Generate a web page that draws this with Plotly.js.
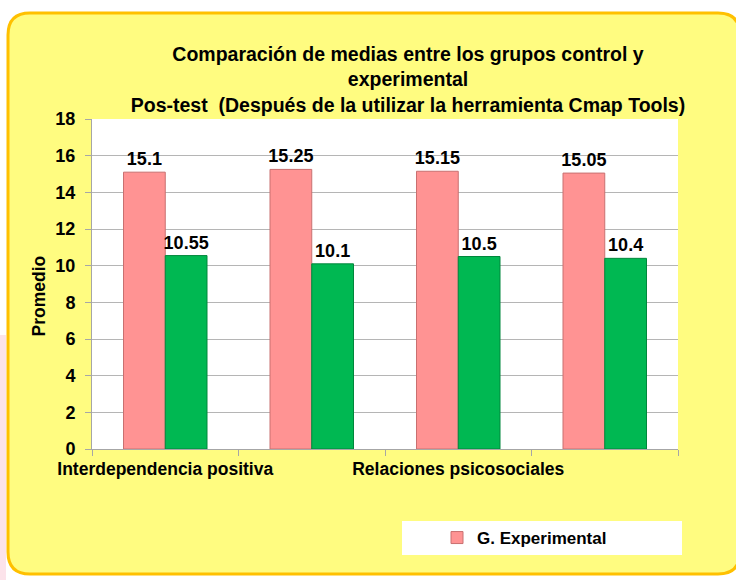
<!DOCTYPE html>
<html>
<head>
<meta charset="utf-8">
<script src="https://cdn.plot.ly/plotly-3.0.1.min.js"></script>
<style>html,body{margin:0;padding:0;background:#fff;}#chart{width:736px;height:580px;}</style>
</head>
<body>
<div id="chart"></div>
<script>
// ---- data ----
const categories = ["Interdependencia positiva", "Categoría 2", "Relaciones psicosociales", "Categoría 4"];
const tickLabels = ["Interdependencia positiva", "", "Relaciones psicosociales", ""];
const experimental = [15.1, 15.25, 15.15, 15.05];
const control = [10.55, 10.1, 10.5, 10.4];
const seriesNames = ["G. Experimental", "G. Control"];

// ---- layout helpers ----
const W = 736, H = 580;
const M = {l: 92, r: 58, t: 119, b: 131};
const pw = W - M.l - M.r, ph = H - M.t - M.b;
const px = x => (x - M.l) / pw;
const py = y => (H - M.b - y) / ph;

function roundRect(x0, y0, x1, y1, r) {
  return `M ${px(x0 + r)} ${py(y0)} L ${px(x1 - r)} ${py(y0)} Q ${px(x1)} ${py(y0)} ${px(x1)} ${py(y0 + r)} ` +
         `L ${px(x1)} ${py(y1 - r)} Q ${px(x1)} ${py(y1)} ${px(x1 - r)} ${py(y1)} ` +
         `L ${px(x0 + r)} ${py(y1)} Q ${px(x0)} ${py(y1)} ${px(x0)} ${py(y1 - r)} ` +
         `L ${px(x0)} ${py(y0 + r)} Q ${px(x0)} ${py(y0)} ${px(x0 + r)} ${py(y0)} Z`;
}

const FONT = "Liberation Sans, Arial, sans-serif";
const labelFont = {family: FONT, size: 18, color: "#000", weight: "bold"};

const traces = [
  {
    type: "bar", x: categories, y: experimental, name: seriesNames[0],
    marker: {color: "#FF9393", line: {color: "#C97070", width: 1}},
    text: experimental.map(String), textposition: "outside", textfont: labelFont,
    constraintext: "none", cliponaxis: false, hoverinfo: "x+y"
  },
  {
    type: "bar", x: categories, y: control, name: seriesNames[1], showlegend: false,
    marker: {color: "#00B852", line: {color: "#00873C", width: 1}},
    text: control.map(String), textposition: "outside", textfont: labelFont,
    constraintext: "none", cliponaxis: false, hoverinfo: "x+y"
  }
];

const layout = {
  width: W, height: H,
  margin: M,
  paper_bgcolor: "#ffffff",
  plot_bgcolor: "rgba(0,0,0,0)",
  font: {family: FONT, color: "#000"},
  showlegend: true,
  barmode: "group",
  bargap: 0.43,
  bargroupgap: 0,
  title: {
    text: "Comparación de medias entre los grupos control y<br>experimental<br>Pos-test&nbsp; (Después de la utilizar la herramienta Cmap Tools)",
    font: {family: FONT, size: 19.5, color: "#000", weight: "bold"},
    x: 408 / W, xanchor: "center", xref: "container",
    y: 1 - 61 / H, yanchor: "top", yref: "container"
  },
  xaxis: {
    type: "category",
    tickvals: categories, ticktext: tickLabels,
    tickson: "boundaries",
    tickangle: 0,
    ticks: "outside", ticklen: 6, tickcolor: "#a6a6a6",
    ticklabelstandoff: 4,
    showline: true, linecolor: "#a6a6a6", linewidth: 1,
    showgrid: false,
    tickfont: {family: FONT, size: 17.5, color: "#000", weight: "bold"},
    range: [-0.5, 3.5]
  },
  yaxis: {
    range: [0, 18], dtick: 2,
    ticks: "outside", ticklen: 6, tickcolor: "#a6a6a6",
    showline: true, linecolor: "#a6a6a6", linewidth: 1,
    showgrid: true, gridcolor: "#b5b5b5", gridwidth: 1,
    zeroline: false,
    tickfont: {family: FONT, size: 18, color: "#000", weight: "bold"},
    ticklabelstandoff: 6,
    title: {text: "Promedio&nbsp;&nbsp;&nbsp;&nbsp;&nbsp;", font: {family: FONT, size: 17.5, color: "#000", weight: "bold"}, standoff: 5}
  },
  legend: {
    x: px(437), xanchor: "left", y: py(538), yanchor: "middle",
    bgcolor: "rgba(0,0,0,0)",
    font: {family: FONT, size: 17, color: "#000", weight: "bold"}
  },
  shapes: [
    {type: "rect", xref: "paper", yref: "paper", x0: px(0), x1: px(6), y0: py(335), y1: py(580),
     fillcolor: "#FCE3EA", line: {width: 0}, layer: "below"},
    {type: "path", xref: "paper", yref: "paper", path: roundRect(8, 13, 740, 574, 22),
     fillcolor: "#FFFC80", line: {color: "#FFC000", width: 3}, layer: "below"},
    {type: "rect", xref: "paper", yref: "paper", x0: 0, x1: 1, y0: 0, y1: 1,
     fillcolor: "#ffffff", line: {width: 0}, layer: "below"},
    {type: "rect", xref: "paper", yref: "paper", x0: px(402), x1: px(682), y0: py(555), y1: py(521),
     fillcolor: "#ffffff", line: {width: 0}, layer: "below"}
  ]
};

Plotly.newPlot("chart", traces, layout, {displayModeBar: false, staticPlot: true});
</script>
</body>
</html>
